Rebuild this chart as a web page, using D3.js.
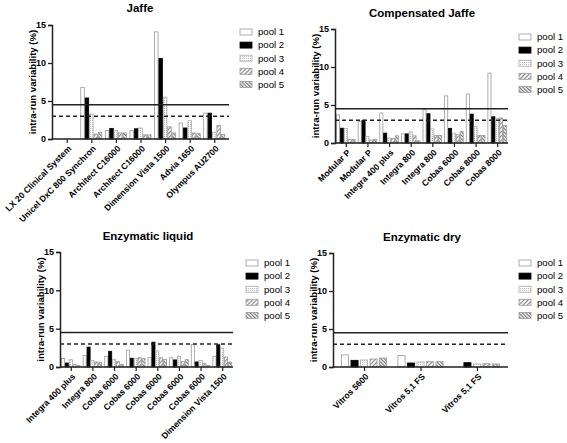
<!DOCTYPE html>
<html><head><meta charset="utf-8">
<script src="https://cdn.jsdelivr.net/npm/d3@7"></script>
<style>
body{margin:0;background:#fff;}
svg{display:block;font-family:"Liberation Sans",Arial,sans-serif;}
</style></head>
<body><svg id="c" width="567" height="443"></svg>
<script>
const pools = ["pool 1","pool 2","pool 3","pool 4","pool 5"];
const yTicks = [0,5,10,15];
const limitSolid = 4.5;
const limitDashed = 3;

const jaffeCategories = ["LX 20 Clinical System","Unicel DxC 800 Synchron","Architect C16000","Architect C16000","Dimension Vista 1500","Advia 1650","Olympus AU2700"];
const jaffeValues = [
  [null,null,null,null,null],
  [6.8,5.4,3.3,0.65,0.85],
  [1.1,1.4,1.1,0.8,0.8],
  [1.1,1.35,1.45,0.55,0.55],
  [14.1,10.6,5.5,1.6,0.8],
  [2.1,1.45,2.4,0.8,0.7],
  [3.4,3.4,0.9,1.8,0.6]
];

const compCategories = ["Modular P","Modular P","Integra 400 plus","Integra 800","Integra 800","Cobas 6000","Cobas 8000","Cobas 8000"];
const compValues = [
  [3.7,1.95,1.9,0.5,0.45],
  [2.85,3.0,0.88,0.4,0.5],
  [3.95,1.3,0.65,0.6,0.95],
  [1.2,1.2,1.45,0.95,0.3],
  [4.4,3.85,1.85,1.0,1.0],
  [6.2,1.93,1.3,1.1,1.5],
  [6.45,3.8,2.15,1.0,1.0],
  [9.2,3.45,3.2,3.3,2.3]
];

const liquidCategories = ["Integra 400 plus","Integra 800","Cobas 6000","Cobas 6000","Cobas 6000","Cobas 6000","Cobas 6000","Dimension Vista 1500"];
const liquidValues = [
  [1.1,0.52,0.96,0.3,0.17],
  [1.5,2.6,0.87,0.65,0.57],
  [1.4,2.05,1.0,0.7,0.35],
  [2.2,1.14,1.1,1.2,1.1],
  [1.22,3.24,2.1,1.2,1.0],
  [1.22,0.92,1.4,0.7,0.96],
  [2.93,0.66,0.87,0.44,0.22],
  [1.4,2.9,2.45,1.3,0.65]
];

const dryCategories = ["Vitros 5600","Vitros 5,1 FS","Vitros 5,1 FS"];
const dryValues = [
  [1.6,0.88,0.92,1.05,1.18],
  [1.5,0.53,0.66,0.7,0.7],
  [null,0.57,0.4,0.44,0.4]
];

const svg = d3.select("#c");
const defs = svg.append("defs");
// pool 3: dotted
const p3 = defs.append("pattern").attr("id","pat3").attr("patternUnits","userSpaceOnUse").attr("width",2).attr("height",2);
p3.append("rect").attr("width",2).attr("height",2).attr("fill","#fff");
p3.append("rect").attr("width",1).attr("height",1).attr("fill","#bbb");
// pool 4: "/" hatch
const p4 = defs.append("pattern").attr("id","pat4").attr("patternUnits","userSpaceOnUse").attr("width",3).attr("height",3).attr("patternTransform","rotate(45)");
p4.append("rect").attr("width",3).attr("height",3).attr("fill","#fff");
p4.append("rect").attr("width",1.2).attr("height",3).attr("fill","#888");
// pool 5: "\" hatch
const p5 = defs.append("pattern").attr("id","pat5").attr("patternUnits","userSpaceOnUse").attr("width",2.5).attr("height",2.5).attr("patternTransform","rotate(-45)");
p5.append("rect").attr("width",2.5).attr("height",2.5).attr("fill","#fff");
p5.append("rect").attr("width",1.2).attr("height",2.5).attr("fill","#777");

const poolFill = ["#fff","#000","url(#pat3)","url(#pat4)","url(#pat5)"];
const poolStroke = ["#999","#000","#aaa","#999","#999"];

function panel(o){
  const g = svg.append("g");
  const y = d3.scaleLinear().domain([0,15]).range([o.y0,o.yTop]);
  const x = d3.scalePoint().domain(d3.range(o.cats.length)).range([o.x0,o.x1]).padding(o.pad);
  const step = x.step();
  const gw = step*o.gw;
  const sub = d3.scaleBand().domain(d3.range(5)).range([-gw/2,gw/2]).paddingInner(o.bp);

  // title
  g.append("text").attr("x",o.tx).attr("y",o.ty).attr("text-anchor","middle")
    .attr("font-size",11.5).attr("font-weight","bold").text(o.title);

  // bars
  o.vals.forEach((row,i)=>{
    row.forEach((v,k)=>{
      if(v==null) return;
      g.append("rect").attr("x",x(i)+sub(k)).attr("y",y(v))
        .attr("width",sub.bandwidth()).attr("height",o.y0-y(v))
        .attr("fill",poolFill[k]).attr("stroke",poolStroke[k]).attr("stroke-width",0.8);
    });
  });

  // reference lines
  g.append("line").attr("x1",o.x0).attr("x2",o.x1).attr("y1",y(limitSolid)).attr("y2",y(limitSolid))
    .attr("stroke","#222").attr("stroke-width",1.6);
  g.append("line").attr("x1",o.x0).attr("x2",o.x1).attr("y1",y(limitDashed)).attr("y2",y(limitDashed))
    .attr("stroke","#222").attr("stroke-width",1.4).attr("stroke-dasharray","4,3");

  // y axis
  const ya = g.append("g").attr("transform",`translate(${o.x0},0)`)
    .call(d3.axisLeft(y).tickValues(yTicks).tickSize(4).tickPadding(2));
  ya.select(".domain").attr("stroke","#222").attr("stroke-width",1.5);
  ya.selectAll(".tick line").attr("stroke","#222").attr("stroke-width",1.3);
  ya.selectAll("text").attr("font-size",9).attr("font-weight","bold").attr("font-family","Liberation Sans, Arial, sans-serif").attr("fill","#000");

  // x axis
  const xa = g.append("g").attr("transform",`translate(0,${o.y0})`)
    .call(d3.axisBottom(x).tickSize(4).tickFormat(""));
  xa.select(".domain").attr("d",`M${o.x0},0H${o.x1}`).attr("stroke","#222").attr("stroke-width",1.5);
  xa.selectAll(".tick line").attr("stroke","#222").attr("stroke-width",1.2);
  o.cats.forEach((c,i)=>{
    g.append("text").attr("transform",`translate(${x(i)+3},${o.y0+8}) rotate(-45)`)
      .attr("text-anchor","end").attr("dy","0.35em")
      .attr("font-size",8.6).attr("font-weight","bold").text(c);
  });

  // y label
  g.append("text").attr("transform",`translate(${o.x0-16},${(o.y0+o.yTop)/2}) rotate(-90)`)
    .attr("text-anchor","middle").attr("font-size",9.6).attr("font-weight","bold")
    .text("intra-run variability (%)");

  // legend
  pools.forEach((p,k)=>{
    const ly = o.ly + k*13.1;
    g.append("rect").attr("x",o.lx).attr("y",ly-3).attr("width",12).attr("height",6)
      .attr("fill",poolFill[k]).attr("stroke",poolStroke[k]).attr("stroke-width",0.8);
    g.append("text").attr("x",o.lx+18).attr("y",ly).attr("dy","0.35em")
      .attr("font-size",9.6).text(p);
  });
}

panel({title:"Jaffe",cats:jaffeCategories,vals:jaffeValues,x0:52,x1:229,yTop:25,y0:139,pad:0.6,gw:0.86,bp:0.2,tx:140,ty:12,lx:240,ly:32});
panel({title:"Compensated Jaffe",cats:compCategories,vals:compValues,x0:335,x1:508,yTop:29,y0:143,pad:0.5,gw:0.86,bp:0.2,tx:422,ty:17,lx:519,ly:37});
panel({title:"Enzymatic liquid",cats:liquidCategories,vals:liquidValues,x0:60,x1:233,yTop:252,y0:367,pad:0.5,gw:0.86,bp:0.2,tx:148,ty:240,lx:246,ly:263});
panel({title:"Enzymatic dry",cats:dryCategories,vals:dryValues,x0:333,x1:508,yTop:253,y0:367,pad:0.55,gw:0.8,bp:0.25,tx:422,ty:241,lx:519,ly:263});
</script></body></html>
